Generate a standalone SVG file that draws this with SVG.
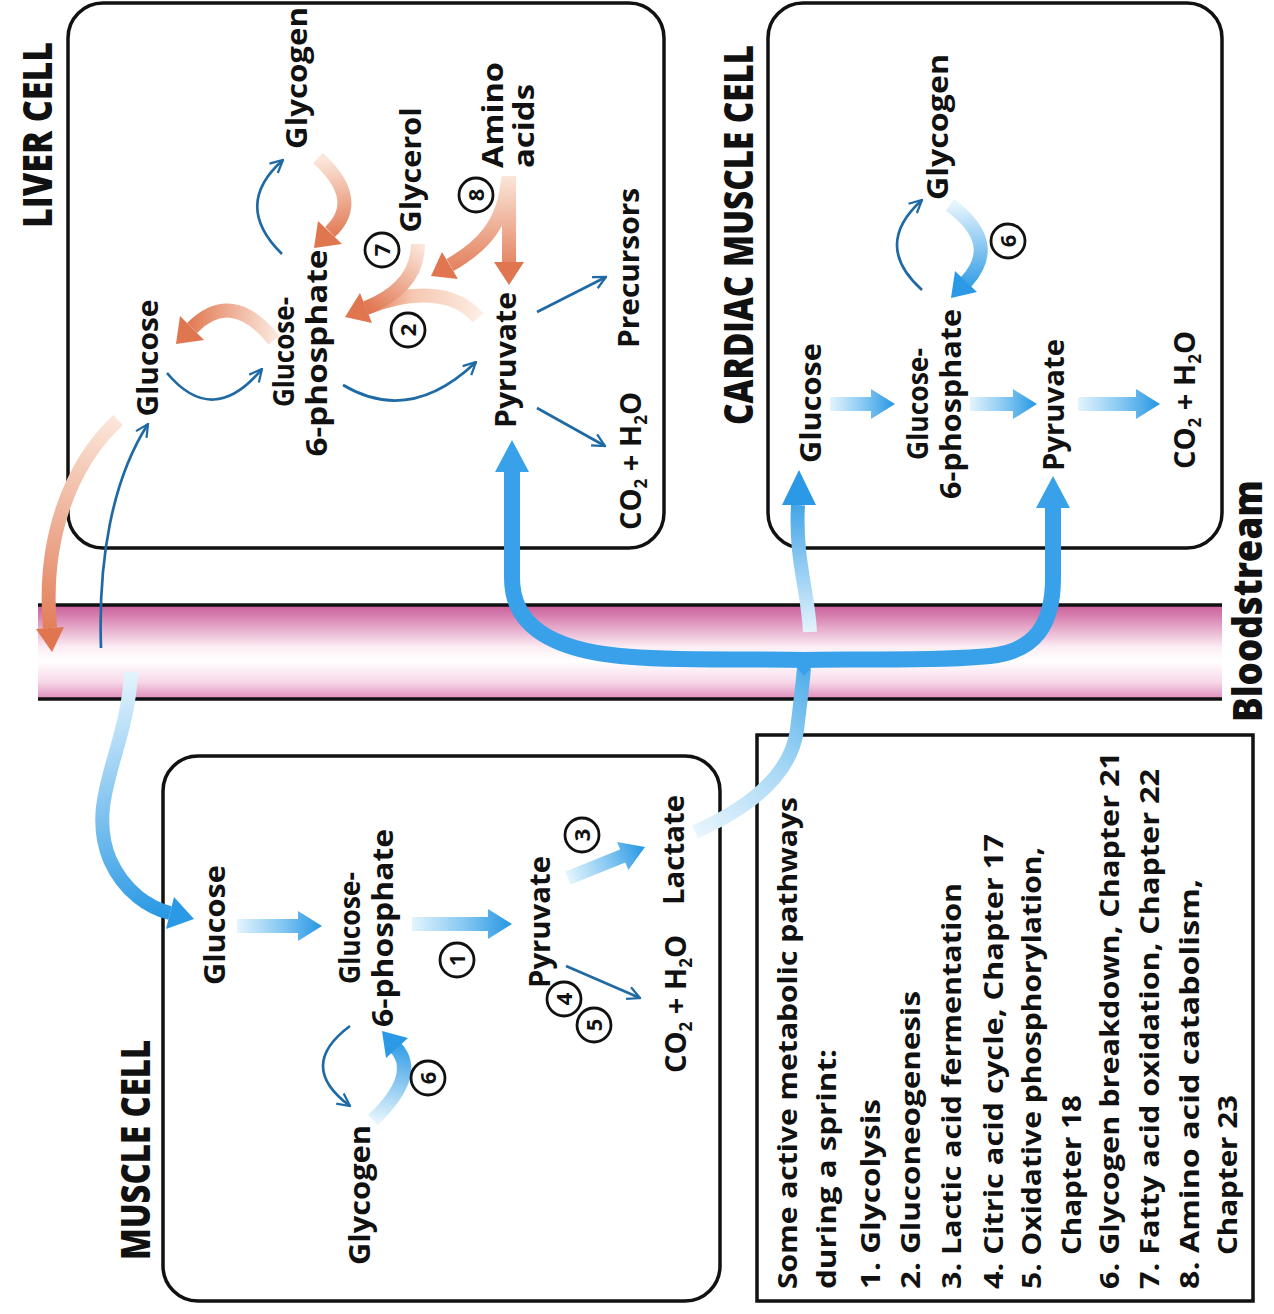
<svg xmlns="http://www.w3.org/2000/svg" width="1274" height="1314" viewBox="0 0 1274 1314">
<defs>
<style>
.lbl{font-family:"Open Sans","Noto Sans","DejaVu Sans",sans-serif;font-weight:700;font-size:29px;fill:#111;}
.hd{font-family:"Open Sans","Noto Sans","DejaVu Sans",sans-serif;font-weight:800;font-size:40px;fill:#111;}
.leg{font-family:"Open Sans","Noto Sans","DejaVu Sans",sans-serif;font-weight:700;font-size:27px;fill:#111;}
.num{font-family:"Open Sans","Noto Sans","DejaVu Sans",sans-serif;font-weight:700;font-size:22px;fill:#111;}
.sub{font-size:17px;}
.cell{fill:#fff;stroke:#111;stroke-width:3.5;}
.thin{fill:none;stroke:#1f6aa5;stroke-width:2.7;marker-end:url(#ah);}
.circ{fill:#fff;stroke:#111;stroke-width:2.8;}
.pk{fill:none;stroke-width:14;stroke-linecap:butt;}
.bt{fill:none;stroke-width:14;stroke-linecap:butt;}
.brace{fill:none;stroke:#38a1e9;stroke-width:16;stroke-linecap:butt;stroke-linejoin:round;}
.pkh{fill:#e07650;}
.bh{fill:#2b99e5;}
</style>
<marker id="ah" viewBox="0 0 12 12" refX="11" refY="6" markerWidth="15" markerHeight="15" markerUnits="userSpaceOnUse" orient="auto">
<path d="M1,1 L11,6 L1,11" fill="none" stroke="#1f6aa5" stroke-width="1.8"/>
</marker>
<linearGradient id="gh" x1="0" y1="0" x2="1" y2="0">
<stop offset="0" stop-color="#e4f4fd"/><stop offset="0.55" stop-color="#80c5f1"/><stop offset="1" stop-color="#2596e3"/>
</linearGradient>
<linearGradient id="blood" x1="0" y1="0" x2="0" y2="1">
<stop offset="0" stop-color="#c95e9a"/><stop offset="0.15" stop-color="#db8ab6"/><stop offset="0.45" stop-color="#fbeef4"/><stop offset="0.6" stop-color="#ffffff"/><stop offset="0.82" stop-color="#f7d8e8"/><stop offset="1" stop-color="#de8cba"/>
</linearGradient>
<linearGradient id="pk1" gradientUnits="userSpaceOnUse" x1="274" y1="340" x2="185" y2="335"><stop offset="0" stop-color="#fbe6da"/><stop offset="1" stop-color="#e07650"/></linearGradient>
<linearGradient id="pk2" gradientUnits="userSpaceOnUse" x1="318" y1="160" x2="325" y2="240"><stop offset="0" stop-color="#fbe6da"/><stop offset="1" stop-color="#e07650"/></linearGradient>
<linearGradient id="pk3" gradientUnits="userSpaceOnUse" x1="416" y1="242" x2="366" y2="308"><stop offset="0" stop-color="#fbe6da"/><stop offset="1" stop-color="#e07650"/></linearGradient>
<linearGradient id="pk4" gradientUnits="userSpaceOnUse" x1="478" y1="318" x2="366" y2="308"><stop offset="0" stop-color="#fcece3"/><stop offset="0.6" stop-color="#f6c7b0"/><stop offset="1" stop-color="#e07650"/></linearGradient>
<linearGradient id="pk5" gradientUnits="userSpaceOnUse" x1="509" y1="176" x2="509" y2="280"><stop offset="0" stop-color="#fbe6da"/><stop offset="1" stop-color="#e07650"/></linearGradient>
<linearGradient id="pk6" gradientUnits="userSpaceOnUse" x1="118" y1="420" x2="51" y2="648"><stop offset="0" stop-color="#fbe6da"/><stop offset="1" stop-color="#e07650"/></linearGradient>
<linearGradient id="bl1" gradientUnits="userSpaceOnUse" x1="131" y1="672" x2="190" y2="915"><stop offset="0" stop-color="#e4f4fd"/><stop offset="1" stop-color="#2596e3"/></linearGradient>
<linearGradient id="bl2" gradientUnits="userSpaceOnUse" x1="373" y1="1120" x2="390" y2="1035"><stop offset="0" stop-color="#e4f4fd"/><stop offset="1" stop-color="#2596e3"/></linearGradient>
<linearGradient id="bl3" gradientUnits="userSpaceOnUse" x1="950" y1="205" x2="955" y2="295"><stop offset="0" stop-color="#e4f4fd"/><stop offset="1" stop-color="#2596e3"/></linearGradient>
<linearGradient id="bl4" gradientUnits="userSpaceOnUse" x1="695" y1="832" x2="804" y2="668"><stop offset="0" stop-color="#e8f5fd"/><stop offset="0.5" stop-color="#a8d8f5"/><stop offset="1" stop-color="#52aeea"/></linearGradient>
<linearGradient id="bl5" gradientUnits="userSpaceOnUse" x1="810" y1="632" x2="800" y2="480"><stop offset="0" stop-color="#e4f4fd"/><stop offset="1" stop-color="#2596e3"/></linearGradient>
</defs>

<rect width="1274" height="1314" fill="#fff"/>

<!-- Bloodstream -->
<g id="bloodstream">
<rect x="38" y="605" width="1184" height="94" fill="url(#blood)"/>
<line x1="38" y1="605" x2="1222" y2="605" stroke="#111" stroke-width="3.5"/>
<line x1="38" y1="699" x2="1222" y2="699" stroke="#111" stroke-width="3.5"/>
<text class="hd" transform="translate(1262,601) rotate(-90)" text-anchor="middle" textLength="242" lengthAdjust="spacingAndGlyphs" font-weight="700">Bloodstream</text>
</g>

<!-- Liver cell -->
<g id="liver-cell">
<rect class="cell" x="68" y="3" width="596" height="545" rx="35"/>
<text class="hd" transform="translate(52,135) rotate(-90) scale(0.877,1)" text-anchor="middle" textLength="212" lengthAdjust="spacingAndGlyphs">LIVER CELL</text>
</g>
<g id="liver-glycogen"><text class="lbl" transform="translate(307,78) rotate(-90)" text-anchor="middle" textLength="142" lengthAdjust="spacingAndGlyphs">Glycogen</text></g>
<g id="liver-glucose"><text class="lbl" transform="translate(158,358) rotate(-90)" text-anchor="middle" textLength="117" lengthAdjust="spacingAndGlyphs">Glucose</text></g>
<g id="liver-g6p">
<text class="lbl" transform="translate(294,352) rotate(-90)" text-anchor="middle" textLength="110" lengthAdjust="spacingAndGlyphs">Glucose-</text>
<text class="lbl" transform="translate(327,353) rotate(-90)" text-anchor="middle" textLength="207" lengthAdjust="spacingAndGlyphs">6-phosphate</text>
</g>
<g id="liver-glycerol"><text class="lbl" transform="translate(421,170) rotate(-90)" text-anchor="middle" textLength="125" lengthAdjust="spacingAndGlyphs">Glycerol</text></g>
<g id="liver-amino-acids">
<text class="lbl" transform="translate(503,168) rotate(-90)" text-anchor="start" textLength="106" lengthAdjust="spacingAndGlyphs">Amino</text>
<text class="lbl" transform="translate(534,168) rotate(-90)" text-anchor="start" textLength="84" lengthAdjust="spacingAndGlyphs">acids</text>
</g>
<g id="liver-pyruvate"><text class="lbl" transform="translate(516,360) rotate(-90)" text-anchor="middle" textLength="136" lengthAdjust="spacingAndGlyphs">Pyruvate</text></g>
<g id="liver-precursors"><text class="lbl" transform="translate(639,268) rotate(-90)" text-anchor="middle" textLength="160" lengthAdjust="spacingAndGlyphs">Precursors</text></g>
<g id="liver-co2"><text class="lbl" transform="translate(641,461) rotate(-90)" text-anchor="middle" font-size="27">CO<tspan class="sub" dy="6">2</tspan><tspan dy="-6"> + H</tspan><tspan class="sub" dy="6">2</tspan><tspan dy="-6">O</tspan></text></g>

<!-- Cardiac muscle cell -->
<g id="cardiac-cell">
<rect class="cell" x="768" y="3" width="454" height="545" rx="35"/>
<text class="hd" transform="translate(753,235) rotate(-90) scale(0.86,1)" text-anchor="middle" textLength="442" lengthAdjust="spacingAndGlyphs">CARDIAC MUSCLE CELL</text>
</g>
<g id="cardiac-glycogen"><text class="lbl" transform="translate(948,127) rotate(-90)" text-anchor="middle" textLength="146" lengthAdjust="spacingAndGlyphs">Glycogen</text></g>
<g id="cardiac-glucose"><text class="lbl" transform="translate(821,403) rotate(-90)" text-anchor="middle" textLength="120" lengthAdjust="spacingAndGlyphs">Glucose</text></g>
<g id="cardiac-g6p">
<text class="lbl" transform="translate(928,404) rotate(-90)" text-anchor="middle" textLength="112" lengthAdjust="spacingAndGlyphs">Glucose-</text>
<text class="lbl" transform="translate(961,404) rotate(-90)" text-anchor="middle" textLength="190" lengthAdjust="spacingAndGlyphs">6-phosphate</text>
</g>
<g id="cardiac-pyruvate"><text class="lbl" transform="translate(1064,405) rotate(-90)" text-anchor="middle" textLength="132" lengthAdjust="spacingAndGlyphs">Pyruvate</text></g>
<g id="cardiac-co2"><text class="lbl" transform="translate(1195,400) rotate(-90)" text-anchor="middle" font-size="27">CO<tspan class="sub" dy="6">2</tspan><tspan dy="-6"> + H</tspan><tspan class="sub" dy="6">2</tspan><tspan dy="-6">O</tspan></text></g>

<!-- Muscle cell -->
<g id="muscle-cell">
<rect class="cell" x="163" y="756" width="557" height="545" rx="35"/>
<text class="hd" transform="translate(150,1150) rotate(-90) scale(0.86,1)" text-anchor="middle" textLength="256" lengthAdjust="spacingAndGlyphs">MUSCLE CELL</text>
</g>
<g id="muscle-glucose"><text class="lbl" transform="translate(225,925) rotate(-90)" text-anchor="middle" textLength="120" lengthAdjust="spacingAndGlyphs">Glucose</text></g>
<g id="muscle-g6p">
<text class="lbl" transform="translate(360,928) rotate(-90)" text-anchor="middle" textLength="112" lengthAdjust="spacingAndGlyphs">Glucose-</text>
<text class="lbl" transform="translate(393,928) rotate(-90)" text-anchor="middle" textLength="198" lengthAdjust="spacingAndGlyphs">6-phosphate</text>
</g>
<g id="muscle-glycogen"><text class="lbl" transform="translate(370,1195) rotate(-90)" text-anchor="middle" textLength="140" lengthAdjust="spacingAndGlyphs">Glycogen</text></g>
<g id="muscle-pyruvate"><text class="lbl" transform="translate(550,922) rotate(-90)" text-anchor="middle" textLength="132" lengthAdjust="spacingAndGlyphs">Pyruvate</text></g>
<g id="muscle-lactate"><text class="lbl" transform="translate(684,850) rotate(-90)" text-anchor="middle" textLength="110" lengthAdjust="spacingAndGlyphs">Lactate</text></g>
<g id="muscle-co2"><text class="lbl" transform="translate(686,1004) rotate(-90)" text-anchor="middle" font-size="27">CO<tspan class="sub" dy="6">2</tspan><tspan dy="-6"> + H</tspan><tspan class="sub" dy="6">2</tspan><tspan dy="-6">O</tspan></text></g>

<!-- Legend -->
<g id="legend">
<rect x="757" y="735" width="496" height="566" fill="#fff" stroke="#111" stroke-width="3.5"/>
<text class="leg" transform="translate(797,1289) rotate(-90)" textLength="492" lengthAdjust="spacingAndGlyphs">Some active metabolic pathways</text>
<text class="leg" transform="translate(836,1289) rotate(-90)" textLength="240" lengthAdjust="spacingAndGlyphs">during a sprint:</text>
<text class="leg" transform="translate(880,1289) rotate(-90)" textLength="190" lengthAdjust="spacingAndGlyphs">1. Glycolysis</text>
<text class="leg" transform="translate(920,1289) rotate(-90)" textLength="298" lengthAdjust="spacingAndGlyphs">2. Gluconeogenesis</text>
<text class="leg" transform="translate(961,1289) rotate(-90)" textLength="406" lengthAdjust="spacingAndGlyphs">3. Lactic acid fermentation</text>
<text class="leg" transform="translate(1003,1289) rotate(-90)" textLength="455" lengthAdjust="spacingAndGlyphs">4. Citric acid cycle, Chapter 17</text>
<text class="leg" transform="translate(1041,1289) rotate(-90)" textLength="442" lengthAdjust="spacingAndGlyphs">5. Oxidative phosphorylation,</text>
<text class="leg" transform="translate(1081,1255) rotate(-90)" textLength="160" lengthAdjust="spacingAndGlyphs">Chapter 18</text>
<text class="leg" transform="translate(1119,1289) rotate(-90)" textLength="537" lengthAdjust="spacingAndGlyphs">6. Glycogen breakdown, Chapter 21</text>
<text class="leg" transform="translate(1159,1289) rotate(-90)" textLength="520" lengthAdjust="spacingAndGlyphs">7. Fatty acid oxidation, Chapter 22</text>
<text class="leg" transform="translate(1199,1289) rotate(-90)" textLength="410" lengthAdjust="spacingAndGlyphs">8. Amino acid catabolism,</text>
<text class="leg" transform="translate(1237,1255) rotate(-90)" textLength="160" lengthAdjust="spacingAndGlyphs">Chapter 23</text>
</g>

<!-- Connectors -->
<g id="connectors">
<!-- liver internal -->
<path class="thin" d="M167 373 Q213 428 262 369"/>
<path class="pk" stroke="url(#pk1)" d="M274 340 Q232 288 192 328"/>
<polygon class="pkh" points="176,344 180,316 204,340"/>
<path class="thin" d="M282 254 Q232 205 283 160"/>
<path class="pk" stroke="url(#pk2)" d="M318 158 Q364 200 330 232"/>
<polygon class="pkh" points="314,248 318,221 342,244"/>
<path class="thin" d="M343 385 Q410 425 476 362"/>
<path class="pk" stroke="url(#pk4)" d="M478 318 C455 290 410 290 366 308"/>
<path class="pk" stroke="url(#pk3)" d="M418 244 C418 275 398 295 366 308"/>
<polygon class="pkh" points="345,317 360,293 372,323"/>
<path class="pk" stroke="url(#pk5)" d="M509 176 L509 262"/>
<polygon class="pkh" points="509,285 494,262 524,262"/>
<path class="pk" stroke="url(#pk5)" d="M508 178 C505 225 480 248 450 265"/>
<polygon class="pkh" points="431,276 442,252 458,279"/>
<path class="thin" d="M537 312 L606 277"/>
<path class="thin" d="M537 408 L605 446"/>
<!-- liver / bloodstream -->
<path class="pk" stroke="url(#pk6)" stroke-width="15" d="M118 420 C70 465 42 540 50 628"/>
<polygon class="pkh" points="52,652 36,629 64,627"/>
<path class="thin" d="M101 648 C98 560 112 480 148 424"/>
<!-- muscle entry -->
<path class="bt" stroke="url(#bl1)" d="M131 672 C128 750 85 800 110 860 C125 893 150 908 170 913"/>
<polygon class="bh" points="194,919 166,929 174,897"/>
<!-- muscle internal -->
<path fill="url(#gh)" transform="translate(237,926)" d="M0,-7 H61 V-15 L85,0 L61,15 V7 H0 Z"/>
<path fill="url(#gh)" transform="translate(412,924)" d="M0,-7 H76 V-15 L100,0 L76,15 V7 H0 Z"/>
<path fill="url(#gh)" transform="translate(568,878) rotate(-21.9)" d="M0,-7 H59 V-15 L83,0 L59,15 V7 H0 Z"/>
<path class="thin" d="M566 966 L640 998"/>
<path class="thin" d="M350 1026 Q296 1066 350 1106"/>
<path class="bt" stroke="url(#bl2)" stroke-width="13" d="M373 1120 Q420 1075 396 1048"/>
<polygon class="bh" points="382,1031 408,1038 386,1058"/>
<!-- cardiac internal -->
<path fill="url(#gh)" transform="translate(830,404)" d="M0,-7 H41 V-15 L65,0 L41,15 V7 H0 Z"/>
<path fill="url(#gh)" transform="translate(970,404)" d="M0,-7 H43 V-15 L67,0 L43,15 V7 H0 Z"/>
<path fill="url(#gh)" transform="translate(1078,404)" d="M0,-7 H58 V-15 L82,0 L58,15 V7 H0 Z"/>
<path class="thin" d="M922 290 Q872 245 922 200"/>
<path class="bt" stroke="url(#bl3)" stroke-width="13" d="M950 205 Q1002 243 966 282"/>
<polygon class="bh" points="951,298 955,271 977,292"/>
<!-- lactate to brace -->
<path class="bt" stroke="url(#bl4)" stroke-width="13" d="M695 832 C740 812 790 780 797 730 C800 705 802 690 804 668"/>
<!-- brace arms -->
<path class="brace" d="M808 660 C760 658 680 662 620 656 C550 649 512 625 512 578 L512 470"/>
<polygon fill="#38a1e9" points="512,440 495,472 529,472"/>
<path class="brace" d="M800 660 C850 658 930 662 990 656 C1035 651 1053 625 1053 578 L1053 505"/>
<polygon fill="#38a1e9" points="1053,476 1036,508 1070,508"/>
<polygon fill="#38a1e9" points="794,664 814,664 804,676"/>
<!-- cardiac glucose branch -->
<path class="bt" stroke="url(#bl5)" d="M810 632 C808 590 795 560 798 505"/>
<polygon class="bh" points="799,470 782,505 816,505"/>
</g>

<!-- Step numbers -->
<g id="steps">
<g id="step-7"><circle class="circ" cx="382" cy="250" r="17"/><text class="num" transform="translate(382,250) rotate(-90)" text-anchor="middle" dy="8">7</text></g>
<g id="step-8"><circle class="circ" cx="476" cy="195" r="17"/><text class="num" transform="translate(476,195) rotate(-90)" text-anchor="middle" dy="8">8</text></g>
<g id="step-2"><circle class="circ" cx="408" cy="330" r="17"/><text class="num" transform="translate(408,330) rotate(-90)" text-anchor="middle" dy="8">2</text></g>
<g id="step-6c"><circle class="circ" cx="1008" cy="241" r="17"/><text class="num" transform="translate(1008,241) rotate(-90)" text-anchor="middle" dy="8">6</text></g>
<g id="step-1"><circle class="circ" cx="457" cy="960" r="17"/><text class="num" transform="translate(457,960) rotate(-90)" text-anchor="middle" dy="8">1</text></g>
<g id="step-3"><circle class="circ" cx="582" cy="835" r="17"/><text class="num" transform="translate(582,835) rotate(-90)" text-anchor="middle" dy="8">3</text></g>
<g id="step-4"><circle class="circ" cx="564" cy="999" r="17"/><text class="num" transform="translate(564,999) rotate(-90)" text-anchor="middle" dy="8">4</text></g>
<g id="step-5"><circle class="circ" cx="594" cy="1025" r="17"/><text class="num" transform="translate(594,1025) rotate(-90)" text-anchor="middle" dy="8">5</text></g>
<g id="step-6m"><circle class="circ" cx="428" cy="1078" r="17"/><text class="num" transform="translate(428,1078) rotate(-90)" text-anchor="middle" dy="8">6</text></g>
</g>
</svg>
